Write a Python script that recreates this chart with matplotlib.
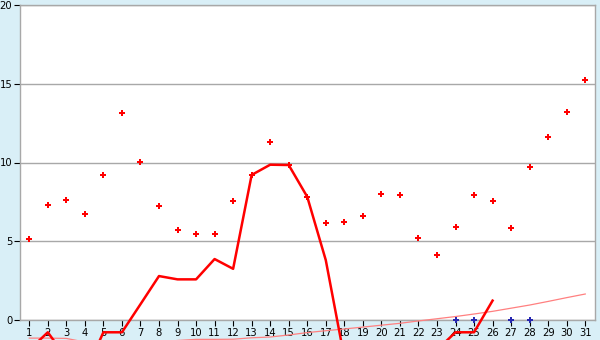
import numpy as np
import matplotlib
matplotlib.use("Agg")
import matplotlib.pyplot as plt

days = list(range(1, 32))
dots = [5.12, 7.28, 7.6, 6.71, 9.19, 13.12, 10.01, 7.22, 5.69, 5.44,
        5.44, 7.54, 9.21, 11.28, 9.84, 7.81, 6.14, 6.2, 6.58, 7.98,
        7.92, 5.19, 4.11, 5.88, 7.92, 7.54, 5.82, 9.69, 11.6, 13.19, 15.22]
red_line = [-1.9, -0.78, -2.4, -3.4, -0.78, -0.78, 1.0, 2.79, 2.58, 2.58,
            3.87, 3.25, 9.21, 9.86, 9.84, 7.82, 3.8, -2.4, -3.0, -3.0,
            -3.0, -3.0, -1.9, -0.78, -0.78, 1.23, np.nan, np.nan, np.nan, np.nan, np.nan]
pink_line = [-1.15, -1.15, -1.17, -1.4, -1.5, -1.5, -1.45, -1.4, -1.3, -1.23,
             -1.23, -1.22, -1.13, -1.08, -0.95, -0.8, -0.68, -0.57, -0.45, -0.33,
             -0.21, -0.06, 0.08, 0.22, 0.38, 0.55, 0.75, 0.95, 1.18, 1.42, 1.65]
blue_days = [24, 25, 27, 28]
blue_vals = [0, 0, 0, 0]
yticks = [0, 5, 10, 15, 20]

bg = '#d9eff7'
grey = '#a8a8a8'

fig = plt.figure(figsize=(6, 3.4), dpi=100, facecolor=bg)
ax = fig.add_axes([20/600, 20/340, 574.5/600, 315/340])
ax.set_facecolor('white')
ax.set_xlim(0.5, 31.5)
ax.set_ylim(0, 20)

ax.set_yticks(yticks)
ax.set_xticks(days)
ax.set_xticklabels([str(d) for d in days])
ax.yaxis.grid(True, color=grey, linewidth=1.0)
ax.set_axisbelow(True)
for s in ax.spines.values():
    s.set_color(grey)
    s.set_linewidth(1.0)
ax.tick_params(axis='both', direction='out', length=4, width=0.8, color='black',
               labelsize=7.2, labelcolor='black', pad=1.5)

ax.plot(days, pink_line, color='#ff8080', linewidth=0.9, clip_on=False, zorder=3)
ax.plot(days, red_line, color='#ff0000', linewidth=1.8, clip_on=False, zorder=4)
ax.plot(days, dots, linestyle='none', marker='P', markersize=4.0, color='#ff0000',
        markeredgewidth=0, zorder=5)
ax.plot(blue_days, blue_vals, linestyle='none', marker='P', markersize=4.0,
        color='#2828b0', markeredgewidth=0, clip_on=False, zorder=5)

fig.savefig('out.png', dpi=100, facecolor=bg)
